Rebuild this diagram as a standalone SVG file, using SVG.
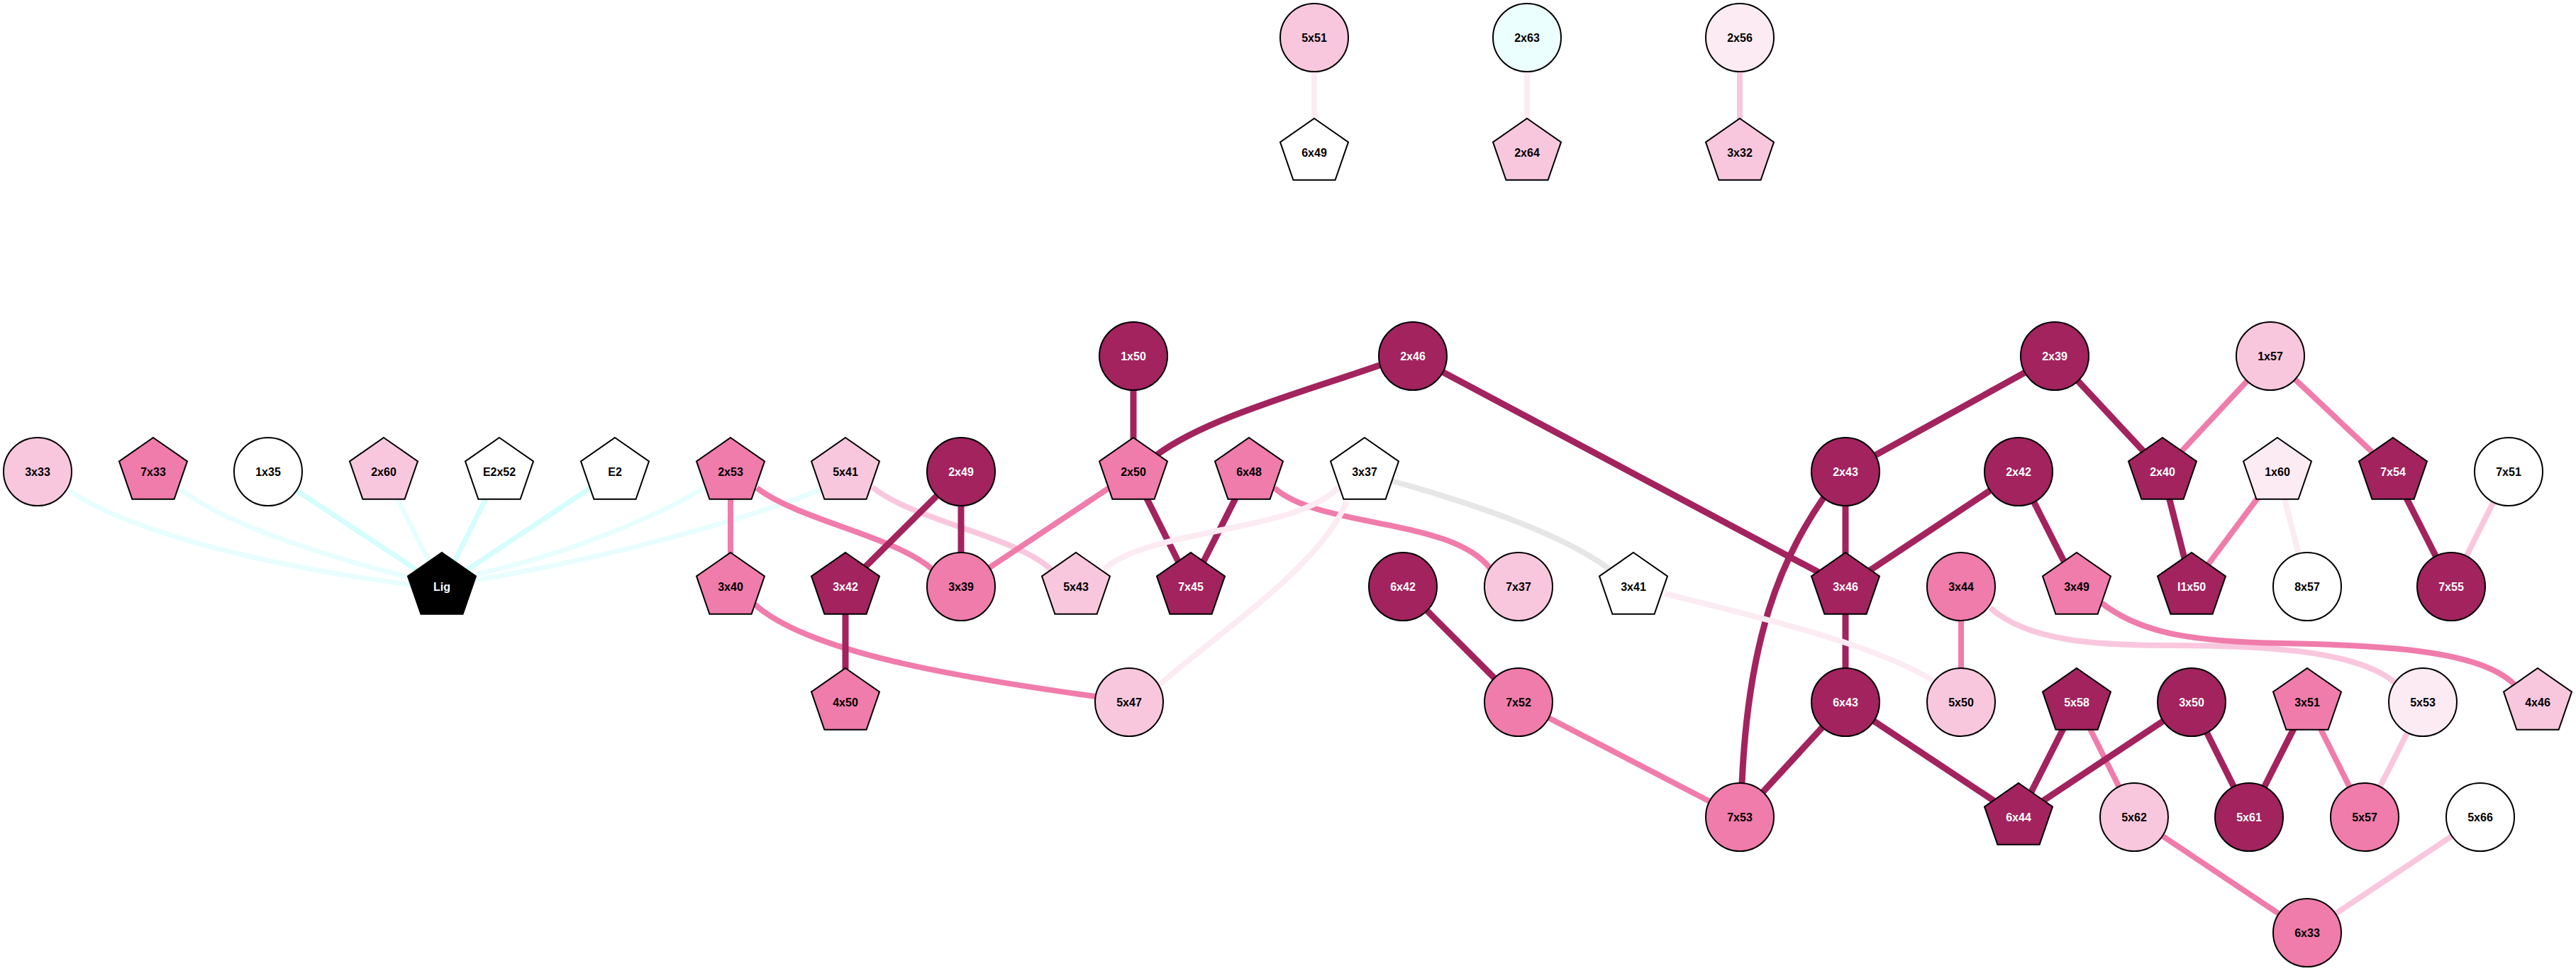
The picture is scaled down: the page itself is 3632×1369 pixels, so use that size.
<svg xmlns="http://www.w3.org/2000/svg" width="3632" height="1369" viewBox="0 0 3632 1369">
<style>
.e{fill:none;stroke-linecap:butt}
.ed{stroke:#a2235e;stroke-width:9}
.em{stroke:#f07cab;stroke-width:8}
.el{stroke:#f9c7dd;stroke-width:8}
.ev{stroke:#fcebf3;stroke-width:8}
.eg{stroke:#e6e6e6;stroke-width:8}
.ec{stroke:#d4fdfd;stroke-width:7}
.ecl{stroke:#e8fefe;stroke-width:7}
.s{stroke:#000;stroke-width:2}
.dark{fill:#a2235e}
.med{fill:#f07cab}
.light{fill:#f9c7dd}
.vlight{fill:#fcebf3}
.white{fill:#ffffff}
.cyan{fill:#ebfffe}
.black{fill:#000000}
text{font-family:"Liberation Sans",Arial,sans-serif;font-size:16px;font-weight:bold;text-anchor:middle;fill:#000}
text.w{fill:#fff}
</style>
<rect width="3632" height="1369" fill="#ffffff"/>
<g id="connectors">
<line class="e ev" x1="1853" y1="53" x2="1853" y2="215"/>
<line class="e ev" x1="2153" y1="53" x2="2153" y2="215"/>
<line class="e el" x1="2453" y1="53" x2="2453" y2="215"/>
<path class="e ecl" d="M98,692 C200,760 420,805 600,827"/>
<path class="e ecl" d="M255,690 C320,740 460,785 600,820"/>
<line class="e ec" x1="378" y1="665" x2="623" y2="827"/>
<line class="e ecl" x1="541" y1="665" x2="623" y2="827"/>
<line class="e ec" x1="704" y1="665" x2="623" y2="827"/>
<line class="e ec" x1="867" y1="665" x2="623" y2="827"/>
<path class="e ecl" d="M993,688 C930,725 800,785 645,815"/>
<path class="e ecl" d="M1157,690 C1060,730 850,790 645,822"/>
<line class="e ed" x1="1598" y1="502" x2="1598" y2="665"/>
<path class="e ed" d="M1945,515 C1830,555 1700,590 1630,642"/>
<line class="e ed" x1="1992" y1="502" x2="2602" y2="827"/>
<line class="e em" x1="1030" y1="665" x2="1030" y2="827"/>
<path class="e em" d="M1067,688 C1130,735 1260,755 1315,803"/>
<path class="e el" d="M1230,687 C1290,735 1430,755 1482,803"/>
<line class="e ed" x1="1355" y1="665" x2="1192" y2="827"/>
<line class="e ed" x1="1355" y1="665" x2="1355" y2="827"/>
<line class="e em" x1="1598" y1="665" x2="1355" y2="827"/>
<line class="e ed" x1="1598" y1="665" x2="1679" y2="827"/>
<line class="e ed" x1="1761" y1="665" x2="1679" y2="827"/>
<path class="e em" d="M1797,688 C1860,745 2050,730 2102,803"/>
<path class="e eg" d="M1962,678 C2060,705 2200,750 2270,803"/>
<path class="e ev" d="M1887,687 C1830,750 1620,745 1556,803"/>
<path class="e ev" d="M1899,707 C1860,800 1720,890 1635,965"/>
<path class="e em" d="M1064,852 C1140,920 1350,955 1545,982"/>
<line class="e ed" x1="1192" y1="827" x2="1192" y2="990"/>
<line class="e ed" x1="1978" y1="827" x2="2141" y2="990"/>
<line class="e em" x1="2141" y1="990" x2="2453" y2="1152"/>
<path class="e ed" d="M2571,702 C2510,790 2465,900 2456,1105"/>
<line class="e ed" x1="2602" y1="665" x2="2602" y2="827"/>
<line class="e ed" x1="2897" y1="502" x2="2602" y2="665"/>
<line class="e ed" x1="2897" y1="502" x2="3049" y2="665"/>
<line class="e ed" x1="2846" y1="665" x2="2602" y2="827"/>
<line class="e ed" x1="2846" y1="665" x2="2928" y2="827"/>
<line class="e ed" x1="2602" y1="827" x2="2602" y2="990"/>
<line class="e ed" x1="2602" y1="990" x2="2453" y2="1152"/>
<line class="e ed" x1="2602" y1="990" x2="2846" y2="1152"/>
<path class="e ev" d="M2347,837 C2480,870 2650,910 2729,962"/>
<line class="e em" x1="2765" y1="827" x2="2765" y2="990"/>
<path class="e el" d="M2806,857 C2860,905 2960,910 3060,910 C3180,910 3320,915 3376,962"/>
<path class="e em" d="M2963,850 C3020,895 3100,905 3220,907 C3380,910 3500,920 3545,965"/>
<line class="e em" x1="3201" y1="502" x2="3049" y2="665"/>
<line class="e em" x1="3201" y1="502" x2="3374" y2="665"/>
<line class="e ed" x1="3049" y1="665" x2="3090" y2="827"/>
<line class="e em" x1="3211" y1="665" x2="3090" y2="827"/>
<line class="e ev" x1="3211" y1="665" x2="3253" y2="827"/>
<line class="e ed" x1="3374" y1="665" x2="3456" y2="827"/>
<line class="e el" x1="3537" y1="665" x2="3456" y2="827"/>
<line class="e ed" x1="2928" y1="990" x2="2846" y2="1152"/>
<line class="e em" x1="2928" y1="990" x2="3009" y2="1152"/>
<line class="e ed" x1="3090" y1="990" x2="2846" y2="1152"/>
<line class="e ed" x1="3090" y1="990" x2="3171" y2="1152"/>
<line class="e ed" x1="3253" y1="990" x2="3171" y2="1152"/>
<line class="e em" x1="3253" y1="990" x2="3334" y2="1152"/>
<line class="e el" x1="3416" y1="990" x2="3334" y2="1152"/>
<line class="e em" x1="3009" y1="1152" x2="3253" y2="1315"/>
<line class="e el" x1="3497" y1="1152" x2="3253" y2="1315"/>
</g>
<g id="nodes">
<g id="node-5x51" transform="translate(1853,53)"><circle class="s light" r="48"/><text y="6">5x51</text></g>
<g id="node-6x49" transform="translate(1853,215)"><polygon class="s white" points="0,-48 48,-14.6 29.6,38.8 -29.6,38.8 -48,-14.6"/><text y="6">6x49</text></g>
<g id="node-2x63" transform="translate(2153,53)"><circle class="s cyan" r="48"/><text y="6">2x63</text></g>
<g id="node-2x64" transform="translate(2153,215)"><polygon class="s light" points="0,-48 48,-14.6 29.6,38.8 -29.6,38.8 -48,-14.6"/><text y="6">2x64</text></g>
<g id="node-2x56" transform="translate(2453,53)"><circle class="s vlight" r="48"/><text y="6">2x56</text></g>
<g id="node-3x32" transform="translate(2453,215)"><polygon class="s light" points="0,-48 48,-14.6 29.6,38.8 -29.6,38.8 -48,-14.6"/><text y="6">3x32</text></g>
<g id="node-1x50" transform="translate(1598,502)"><circle class="s dark" r="48"/><text class="w" y="6">1x50</text></g>
<g id="node-2x46" transform="translate(1992,502)"><circle class="s dark" r="48"/><text class="w" y="6">2x46</text></g>
<g id="node-2x39" transform="translate(2897,502)"><circle class="s dark" r="48"/><text class="w" y="6">2x39</text></g>
<g id="node-1x57" transform="translate(3201,502)"><circle class="s light" r="48"/><text y="6">1x57</text></g>
<g id="node-3x33" transform="translate(53,665)"><circle class="s light" r="48"/><text y="6">3x33</text></g>
<g id="node-7x33" transform="translate(216,665)"><polygon class="s med" points="0,-48 48,-14.6 29.6,38.8 -29.6,38.8 -48,-14.6"/><text y="6">7x33</text></g>
<g id="node-1x35" transform="translate(378,665)"><circle class="s white" r="48"/><text y="6">1x35</text></g>
<g id="node-2x60" transform="translate(541,665)"><polygon class="s light" points="0,-48 48,-14.6 29.6,38.8 -29.6,38.8 -48,-14.6"/><text y="6">2x60</text></g>
<g id="node-E2x52" transform="translate(704,665)"><polygon class="s white" points="0,-48 48,-14.6 29.6,38.8 -29.6,38.8 -48,-14.6"/><text y="6">E2x52</text></g>
<g id="node-E2" transform="translate(867,665)"><polygon class="s white" points="0,-48 48,-14.6 29.6,38.8 -29.6,38.8 -48,-14.6"/><text y="6">E2</text></g>
<g id="node-2x53" transform="translate(1030,665)"><polygon class="s med" points="0,-48 48,-14.6 29.6,38.8 -29.6,38.8 -48,-14.6"/><text y="6">2x53</text></g>
<g id="node-5x41" transform="translate(1192,665)"><polygon class="s light" points="0,-48 48,-14.6 29.6,38.8 -29.6,38.8 -48,-14.6"/><text y="6">5x41</text></g>
<g id="node-2x49" transform="translate(1355,665)"><circle class="s dark" r="48"/><text class="w" y="6">2x49</text></g>
<g id="node-2x50" transform="translate(1598,665)"><polygon class="s med" points="0,-48 48,-14.6 29.6,38.8 -29.6,38.8 -48,-14.6"/><text y="6">2x50</text></g>
<g id="node-6x48" transform="translate(1761,665)"><polygon class="s med" points="0,-48 48,-14.6 29.6,38.8 -29.6,38.8 -48,-14.6"/><text y="6">6x48</text></g>
<g id="node-3x37" transform="translate(1924,665)"><polygon class="s white" points="0,-48 48,-14.6 29.6,38.8 -29.6,38.8 -48,-14.6"/><text y="6">3x37</text></g>
<g id="node-2x43" transform="translate(2602,665)"><circle class="s dark" r="48"/><text class="w" y="6">2x43</text></g>
<g id="node-2x42" transform="translate(2846,665)"><circle class="s dark" r="48"/><text class="w" y="6">2x42</text></g>
<g id="node-2x40" transform="translate(3049,665)"><polygon class="s dark" points="0,-48 48,-14.6 29.6,38.8 -29.6,38.8 -48,-14.6"/><text class="w" y="6">2x40</text></g>
<g id="node-1x60" transform="translate(3211,665)"><polygon class="s vlight" points="0,-48 48,-14.6 29.6,38.8 -29.6,38.8 -48,-14.6"/><text y="6">1x60</text></g>
<g id="node-7x54" transform="translate(3374,665)"><polygon class="s dark" points="0,-48 48,-14.6 29.6,38.8 -29.6,38.8 -48,-14.6"/><text class="w" y="6">7x54</text></g>
<g id="node-7x51" transform="translate(3537,665)"><circle class="s white" r="48"/><text y="6">7x51</text></g>
<g id="node-Lig" transform="translate(623,827)"><polygon class="s black" points="0,-48 48,-14.6 29.6,38.8 -29.6,38.8 -48,-14.6"/><text class="w" y="6">Lig</text></g>
<g id="node-3x40" transform="translate(1030,827)"><polygon class="s med" points="0,-48 48,-14.6 29.6,38.8 -29.6,38.8 -48,-14.6"/><text y="6">3x40</text></g>
<g id="node-3x42" transform="translate(1192,827)"><polygon class="s dark" points="0,-48 48,-14.6 29.6,38.8 -29.6,38.8 -48,-14.6"/><text class="w" y="6">3x42</text></g>
<g id="node-3x39" transform="translate(1355,827)"><circle class="s med" r="48"/><text y="6">3x39</text></g>
<g id="node-5x43" transform="translate(1517,827)"><polygon class="s light" points="0,-48 48,-14.6 29.6,38.8 -29.6,38.8 -48,-14.6"/><text y="6">5x43</text></g>
<g id="node-7x45" transform="translate(1679,827)"><polygon class="s dark" points="0,-48 48,-14.6 29.6,38.8 -29.6,38.8 -48,-14.6"/><text class="w" y="6">7x45</text></g>
<g id="node-6x42" transform="translate(1978,827)"><circle class="s dark" r="48"/><text class="w" y="6">6x42</text></g>
<g id="node-7x37" transform="translate(2141,827)"><circle class="s light" r="48"/><text y="6">7x37</text></g>
<g id="node-3x41" transform="translate(2303,827)"><polygon class="s white" points="0,-48 48,-14.6 29.6,38.8 -29.6,38.8 -48,-14.6"/><text y="6">3x41</text></g>
<g id="node-3x46" transform="translate(2602,827)"><polygon class="s dark" points="0,-48 48,-14.6 29.6,38.8 -29.6,38.8 -48,-14.6"/><text class="w" y="6">3x46</text></g>
<g id="node-3x44" transform="translate(2765,827)"><circle class="s med" r="48"/><text y="6">3x44</text></g>
<g id="node-3x49" transform="translate(2928,827)"><polygon class="s med" points="0,-48 48,-14.6 29.6,38.8 -29.6,38.8 -48,-14.6"/><text y="6">3x49</text></g>
<g id="node-I1x50" transform="translate(3090,827)"><polygon class="s dark" points="0,-48 48,-14.6 29.6,38.8 -29.6,38.8 -48,-14.6"/><text class="w" y="6">I1x50</text></g>
<g id="node-8x57" transform="translate(3253,827)"><circle class="s white" r="48"/><text y="6">8x57</text></g>
<g id="node-7x55" transform="translate(3456,827)"><circle class="s dark" r="48"/><text class="w" y="6">7x55</text></g>
<g id="node-4x50" transform="translate(1192,990)"><polygon class="s med" points="0,-48 48,-14.6 29.6,38.8 -29.6,38.8 -48,-14.6"/><text y="6">4x50</text></g>
<g id="node-5x47" transform="translate(1592,990)"><circle class="s light" r="48"/><text y="6">5x47</text></g>
<g id="node-7x52" transform="translate(2141,990)"><circle class="s med" r="48"/><text y="6">7x52</text></g>
<g id="node-6x43" transform="translate(2602,990)"><circle class="s dark" r="48"/><text class="w" y="6">6x43</text></g>
<g id="node-5x50" transform="translate(2765,990)"><circle class="s light" r="48"/><text y="6">5x50</text></g>
<g id="node-5x58" transform="translate(2928,990)"><polygon class="s dark" points="0,-48 48,-14.6 29.6,38.8 -29.6,38.8 -48,-14.6"/><text class="w" y="6">5x58</text></g>
<g id="node-3x50" transform="translate(3090,990)"><circle class="s dark" r="48"/><text class="w" y="6">3x50</text></g>
<g id="node-3x51" transform="translate(3253,990)"><polygon class="s med" points="0,-48 48,-14.6 29.6,38.8 -29.6,38.8 -48,-14.6"/><text y="6">3x51</text></g>
<g id="node-5x53" transform="translate(3416,990)"><circle class="s vlight" r="48"/><text y="6">5x53</text></g>
<g id="node-4x46" transform="translate(3578,990)"><polygon class="s light" points="0,-48 48,-14.6 29.6,38.8 -29.6,38.8 -48,-14.6"/><text y="6">4x46</text></g>
<g id="node-7x53" transform="translate(2453,1152)"><circle class="s med" r="48"/><text y="6">7x53</text></g>
<g id="node-6x44" transform="translate(2846,1152)"><polygon class="s dark" points="0,-48 48,-14.6 29.6,38.8 -29.6,38.8 -48,-14.6"/><text class="w" y="6">6x44</text></g>
<g id="node-5x62" transform="translate(3009,1152)"><circle class="s light" r="48"/><text y="6">5x62</text></g>
<g id="node-5x61" transform="translate(3171,1152)"><circle class="s dark" r="48"/><text class="w" y="6">5x61</text></g>
<g id="node-5x57" transform="translate(3334,1152)"><circle class="s med" r="48"/><text y="6">5x57</text></g>
<g id="node-5x66" transform="translate(3497,1152)"><circle class="s white" r="48"/><text y="6">5x66</text></g>
<g id="node-6x33" transform="translate(3253,1315)"><circle class="s med" r="48"/><text y="6">6x33</text></g>
</g>
</svg>
